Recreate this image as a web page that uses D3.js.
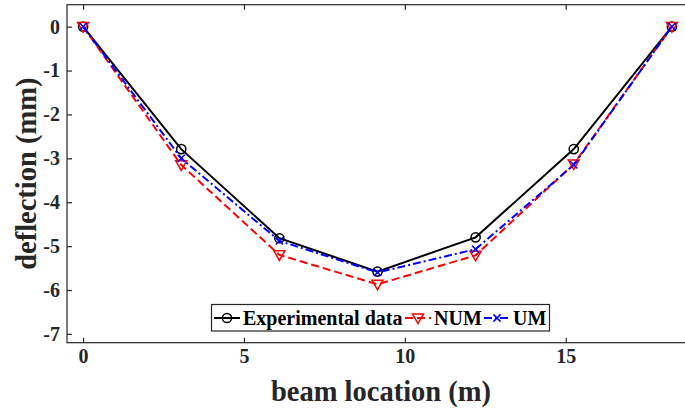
<!DOCTYPE html>
<html>
<head>
<meta charset="utf-8">
<script src="https://cdn.jsdelivr.net/npm/d3@7"></script>
<style>
  body { margin: 0; background: #fff; }
  svg { display: block; }
  text { font-family: "Liberation Serif", "Times New Roman", serif; font-weight: bold; }
</style>
</head>
<body>
<svg id="chart" width="685" height="410"></svg>
<script>
// beam positions (m) and deflections (mm)
var location_m = [0, 3.05, 6.1, 9.15, 12.2, 15.25, 18.3];
var experimental = [0, -2.79, -4.82, -5.58, -4.8, -2.79, 0];
var num = [0, -3.15, -5.2, -5.87, -5.21, -3.13, 0];
var um = [0, -3.0, -4.88, -5.6, -5.07, -3.15, 0];
var xTicks = [0, 5, 10, 15];
var yTicks = [0, -1, -2, -3, -4, -5, -6, -7];

var series = [
  { name: "Experimental data", values: experimental, color: "#000000", dash: null, marker: "circle" },
  { name: "NUM", values: num, color: "#ff0000", dash: "8,4", marker: "tri" },
  { name: "UM", values: um, color: "#0000ff", dash: "8,3,2,3", marker: "x" }
];

var plotLeft = 67, plotTop = 4.7, plotRight = 688, plotBottom = 342.7;
var axisColor = "#262626";

var x = d3.scaleLinear().domain([-0.5, 18.8]).range([plotLeft, plotRight]);
var y = d3.scaleLinear().domain([-7.2, 0.5]).range([plotBottom, plotTop]);

var svg = d3.select("#chart");

// box
svg.append("rect")
  .attr("x", plotLeft).attr("y", plotTop)
  .attr("width", plotRight - plotLeft).attr("height", plotBottom - plotTop)
  .attr("fill", "none").attr("stroke", axisColor).attr("stroke-width", 1.2);

var xAxis = svg.append("g")
  .attr("transform", "translate(0," + plotBottom + ")")
  .call(d3.axisBottom(x).tickValues(xTicks).tickSize(-5).tickPadding(6).tickFormat(d3.format("d")));
var xTop = svg.append("g")
  .attr("transform", "translate(0," + plotTop + ")")
  .call(d3.axisTop(x).tickValues(xTicks).tickSize(-5).tickFormat(""));
var yAxis = svg.append("g")
  .attr("transform", "translate(" + plotLeft + ",0)")
  .call(d3.axisLeft(y).tickValues(yTicks).tickSize(-5).tickPadding(7).tickFormat(d3.format("d")));

[xAxis, xTop, yAxis].forEach(function (g) {
  g.select(".domain").remove();
  g.selectAll(".tick line").attr("stroke", axisColor).attr("stroke-width", 1.2);
  g.selectAll(".tick text").attr("fill", axisColor).style("font-size", "20px")
    .style("font-family", "'Liberation Serif', 'Times New Roman', serif").style("font-weight", "bold");
});
yAxis.selectAll(".tick text").text(function (d) { return d === 0 ? "0" : "-" + Math.abs(d); });

// axis labels
svg.append("text")
  .attr("x", 381).attr("y", 401)
  .attr("text-anchor", "middle").attr("fill", axisColor)
  .style("font-size", "28.5px")
  .text("beam location (m)");
svg.append("text")
  .attr("transform", "translate(36," + ((plotTop + plotBottom) / 2) + ") rotate(-90)")
  .attr("text-anchor", "middle").attr("fill", axisColor)
  .style("font-size", "28.5px")
  .text("deflection (mm)");

function drawMarker(g, type, cx, cy, color) {
  if (type === "circle") {
    g.append("circle").attr("cx", cx).attr("cy", cy).attr("r", 4.6)
      .attr("fill", "none").attr("stroke", color).attr("stroke-width", 1.5);
  } else if (type === "tri") {
    var s = 5.5;
    g.append("path")
      .attr("d", "M" + (cx - s) + "," + (cy - s * 0.75) + "L" + (cx + s) + "," + (cy - s * 0.75) + "L" + cx + "," + (cy + s * 1.0) + "Z")
      .attr("fill", "none").attr("stroke", color).attr("stroke-width", 1.5);
  } else {
    var t = 3.6;
    g.append("path")
      .attr("d", "M" + (cx - t) + "," + (cy - t) + "L" + (cx + t) + "," + (cy + t) + "M" + (cx - t) + "," + (cy + t) + "L" + (cx + t) + "," + (cy - t))
      .attr("fill", "none").attr("stroke", color).attr("stroke-width", 1.5);
  }
}

var line = d3.line()
  .x(function (d) { return x(d[0]); })
  .y(function (d) { return y(d[1]); });

series.forEach(function (s) {
  var pts = location_m.map(function (v, i) { return [v, s.values[i]]; });
  var g = svg.append("g");
  g.append("path")
    .attr("d", line(pts))
    .attr("fill", "none").attr("stroke", s.color).attr("stroke-width", 2)
    .attr("stroke-dasharray", s.dash);
  pts.forEach(function (p) { drawMarker(g, s.marker, x(p[0]), y(p[1]), s.color); });
});

// legend
var lg = svg.append("g");
lg.append("rect")
  .attr("x", 211.5).attr("y", 304.5).attr("width", 338).attr("height", 26.5)
  .attr("fill", "#fff").attr("stroke", axisColor).attr("stroke-width", 1.2);
var legendX = [214, 405, 484];
series.forEach(function (s, i) {
  var lx = legendX[i], ly = 318;
  lg.append("line")
    .attr("x1", lx).attr("x2", lx + 26).attr("y1", ly).attr("y2", ly)
    .attr("stroke", s.color).attr("stroke-width", 2).attr("stroke-dasharray", s.dash);
  drawMarker(lg, s.marker, lx + 13, ly, s.color);
  lg.append("text")
    .attr("x", lx + 29).attr("y", ly + 7)
    .attr("fill", "#000").style("font-size", "20px")
    .text(s.name);
});
</script>
</body>
</html>
